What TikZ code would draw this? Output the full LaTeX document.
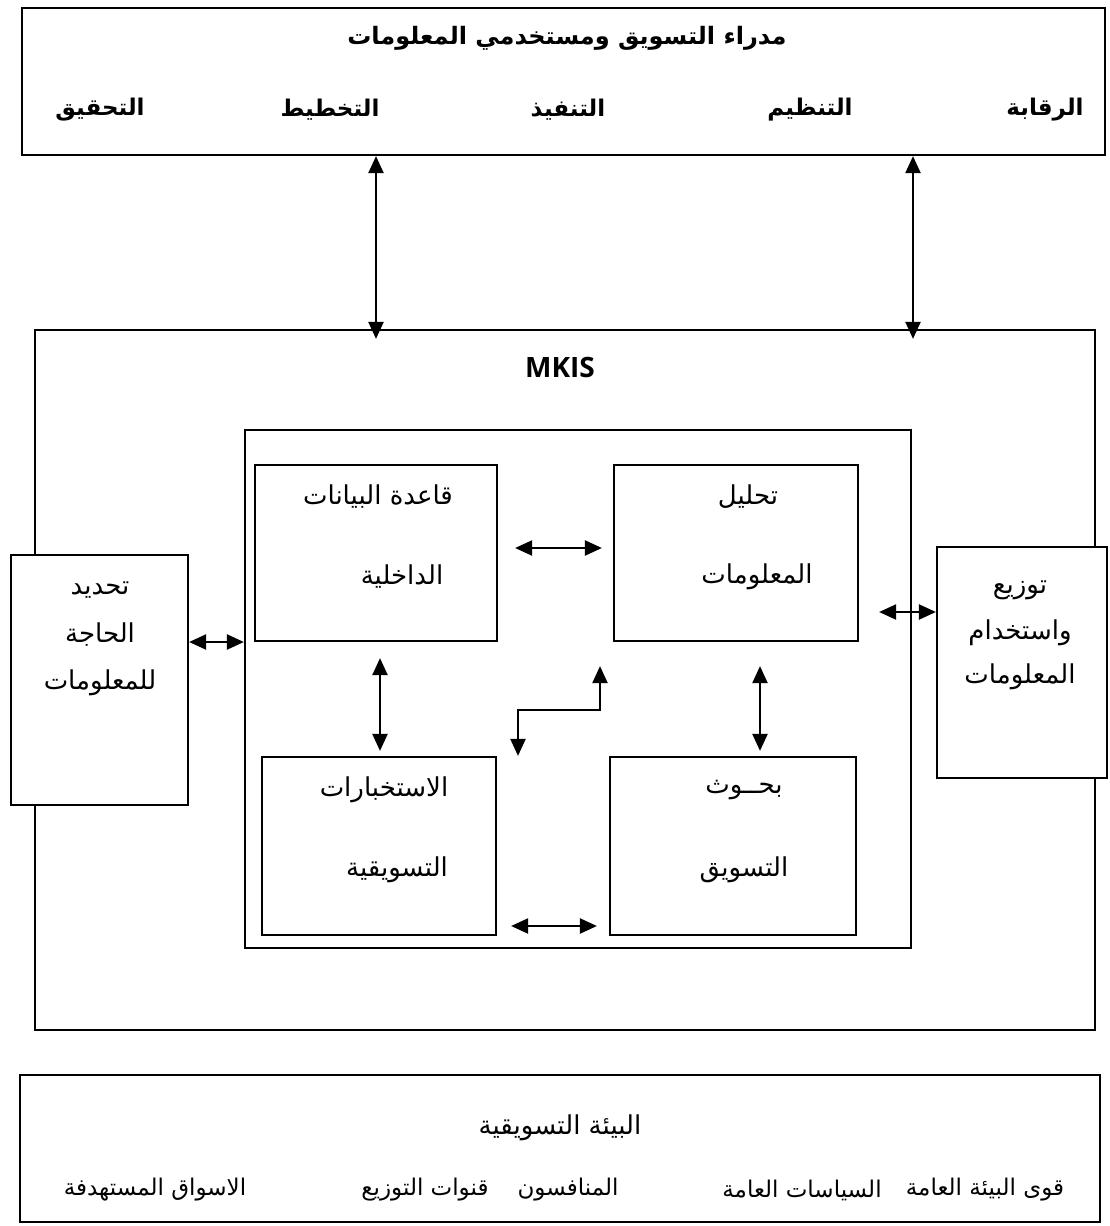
\documentclass[tikz,border=0pt]{standalone}
\usepackage{fontspec}
\setmainfont{DejaVu Sans}
\newfontfamily\arabicfont[Script=Arabic]{DejaVu Sans}
\newfontfamily\latinfont{Open Sans}
\TeXXeTstate=1
\usetikzlibrary{arrows.meta,calc}
\begin{document}
\begin{tikzpicture}[x=1pt,y=-1pt,
  box/.style={draw, line width=2.2pt, fill=white, inner sep=0pt},
  ar/.style={font=\arabicfont\fontsize{26}{30}\selectfont, inner sep=0pt},
  arbot/.style={font=\arabicfont\fontsize{23}{28}\selectfont, inner sep=0pt},
  arb/.style={font=\arabicfont\bfseries\fontsize{23}{27}\selectfont, inner sep=0pt},
  arr/.style={line width=2.2pt, {Triangle[length=17pt,width=15pt]}-{Triangle[length=17pt,width=15pt]}}]
\useasboundingbox (0,0) rectangle (1109,1226);
% boxes
\node[box, minimum width=1083pt, minimum height=147pt] (top) at (563.5,81.5) {};
\node[box, minimum width=1060pt, minimum height=700pt] (mkis) at (565,680) {};
\node[box, minimum width=666pt, minimum height=518pt] (inner) at (578,689) {};
\node[box, minimum width=242pt, minimum height=176pt] (A) at (376,553) {};
\node[box, minimum width=244pt, minimum height=176pt] (B) at (736,553) {};
\node[box, minimum width=234pt, minimum height=178pt] (C) at (379,846) {};
\node[box, minimum width=246pt, minimum height=178pt] (D) at (733,846) {};
\node[box, minimum width=177pt, minimum height=250pt] (L) at (99.5,680) {};
\node[box, minimum width=170pt, minimum height=231pt] (R) at (1022,662.5) {};
\node[box, minimum width=1080pt, minimum height=147pt] (bot) at (560,1148.5) {};
% top texts
\node[arb, font=\arabicfont\bfseries\fontsize{24}{28}\selectfont] (t0) at (567,38) {\beginR مدراء التسويق ومستخدمي المعلومات\endR};
\node[arb] (t1) at (1045,110) {\beginR الرقابة\endR};
\node[arb] (t2) at (810,110) {\beginR التنظيم\endR};
\node[arb] (t3) at (568,110) {\beginR التنفيذ\endR};
\node[arb] (t4) at (330,110) {\beginR التخطيط\endR};
\node[arb] (t5) at (100,110) {\beginR التحقيق\endR};
% MKIS
\node[font=\latinfont\bfseries\fontsize{28}{32}\selectfont, inner sep=0pt] (mk) at (560,367) {MKIS};
% inner texts
\node[ar] (a1) at (378,497) {\beginR قاعدة البيانات\endR};
\node[ar] (a2) at (402,577) {\beginR الداخلية\endR};
\node[ar] (b1) at (748,497) {\beginR تحليل\endR};
\node[ar] (b2) at (757,577) {\beginR المعلومات\endR};
\node[ar] (c1) at (384,790) {\beginR الاستخبارات\endR};
\node[ar] (c2) at (397,870) {\beginR التسويقية\endR};
\node[ar] (d1) at (744,790) {\beginR بحــوث\endR};
\node[ar] (d2) at (744,870) {\beginR التسويق\endR};
% side texts
\node[ar] (l1) at (100,590) {\beginR تحديد\endR};
\node[ar] (l2) at (100,635) {\beginR الحاجة\endR};
\node[ar] (l3) at (100,683) {\beginR للمعلومات\endR};
\node[ar] (r1) at (1020,590) {\beginR توزيع\endR};
\node[ar] (r2) at (1020,633) {\beginR واستخدام\endR};
\node[ar] (r3) at (1020,677) {\beginR المعلومات\endR};
% bottom texts
\node[ar] (e0) at (560,1128) {\beginR البيئة التسويقية\endR};
\node[arbot] (e1) at (985,1190) {\beginR قوى البيئة العامة\endR};
\node[arbot] (e2) at (802,1190) {\beginR السياسات العامة\endR};
\node[arbot] (e3) at (568,1190) {\beginR المنافسون\endR};
\node[arbot] (e4) at (425,1190) {\beginR قنوات التوزيع\endR};
\node[arbot] (e5) at (155,1190) {\beginR الاسواق المستهدفة\endR};
% connectors
\draw[arr] ($(top.south)+(-187.5,0)$) -- ($(mkis.north)+(-189,10)$);
\draw[arr] ($(top.south)+(349.5,0)$) -- ($(mkis.north)+(348,10)$);
\draw[arr] ($(A.east)+(17,-5)$) -- ($(B.west)+(-11,-5)$);
\draw[arr] ($(A.south)+(4,16)$) -- ($(C.north)+(1,-5)$);
\draw[arr] ($(B.south)+(24,24)$) -- ($(D.north)+(27,-5)$);
\draw[arr] ($(C.east)+(14,80)$) -- ($(D.west)+(-12,80)$);
\draw[arr] ($(B.south)+(-136,24)$) -- (600,710) -- (518,710) -- ($(C.north)+(139,0)$);
\draw[arr] ($(L.east)+(0,-38)$) -- ($(inner.west)+(0,-47)$);
\draw[arr] ($(inner.east)+(-33,-77)$) -- ($(R.west)+(0,-50.5)$);
\end{tikzpicture}
\end{document}
